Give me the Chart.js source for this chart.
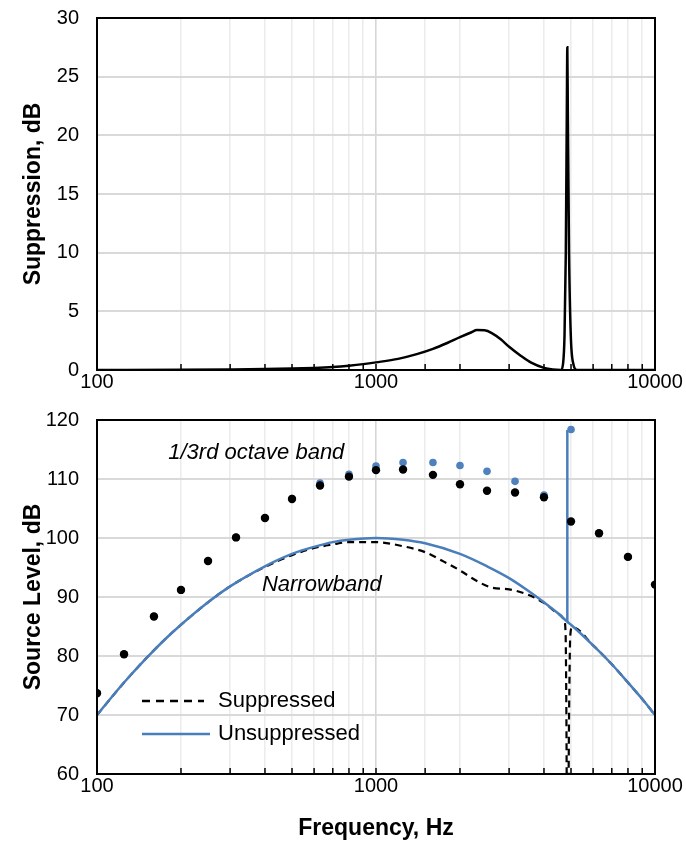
<!DOCTYPE html>
<html>
<head>
<meta charset="utf-8">
<script src="https://cdn.jsdelivr.net/npm/chart.js@4.4.1/dist/chart.umd.min.js"></script>
<style>
  html, body { margin: 0; padding: 0; background: #fff; }
  #wrap { position: relative; width: 686px; height: 842px; }
  canvas { position: absolute; left: 0; }
</style>
</head>
<body>
<div id="wrap">
  <canvas id="suppChart" width="686" height="400" style="top:0"></canvas>
  <canvas id="levelChart" width="686" height="442" style="top:400px"></canvas>
</div>
<script>
// top panel: suppression vs frequency
const suppFreq = [100, 200, 300, 400, 500, 600, 700, 800, 900, 1000, 1200, 1400, 1600, 1800, 2000, 2200, 2300,
  2450, 2600, 2800, 3000, 3300, 3600, 4000, 4300, 4600, 4680, 4740, 4790, 4830, 4850, 4870, 4920, 4990, 5100, 5250, 10000];
const suppDb = [0, 0.02, 0.05, 0.08, 0.12, 0.18, 0.26, 0.37, 0.5, 0.65, 0.95, 1.35, 1.8, 2.3, 2.8, 3.22, 3.4,
  3.38, 3.15, 2.62, 1.98, 1.22, 0.62, 0.18, 0.04, 0, 0.5, 3, 10, 22, 27.5, 22, 10, 3, 0.5, 0, 0];

// bottom panel: 1/3rd octave band levels
const bandFreq = [100, 125, 160, 200, 250, 315, 400, 500, 630, 800, 1000, 1250, 1600, 2000, 2500, 3150, 4000, 5000, 6300, 8000, 10000];
const bandSuppressed = [73.7, 80.3, 86.7, 91.2, 96.1, 100.1, 103.4, 106.6, 108.9, 110.4, 111.5, 111.6, 110.7, 109.1, 108.0, 107.7, 106.9, 102.8, 100.8, 96.8, 92.1];
const bandUnsuppressed = [73.7, 80.3, 86.7, 91.2, 96.1, 100.1, 103.4, 106.7, 109.3, 110.8, 112.2, 112.8, 112.8, 112.3, 111.3, 109.6, 107.3, 118.4, 100.8, 96.8, 92.1];

// bottom panel: narrowband levels (broadband part and the tone)
const nbFreq = [100, 125, 150, 175, 200, 250, 300, 400, 500, 600, 700, 800, 1000, 1250, 1500, 2000, 2500, 3000, 3500,
  4000, 4500, 4850, 5000, 6000, 7000, 8000, 9000, 10000];
const nbUnsuppressed = [70, 75.5, 79.6, 82.8, 85.3, 89.1, 91.8, 95.2, 97.3, 98.5, 99.3, 99.7, 100, 99.7, 99.1, 97.3, 95.2, 93.2, 91.1,
  89.1, 87.2, 85.8, 85.3, 81.8, 78.6, 75.5, 72.7, 70];
const toneFreq = [4850, 4850];
const toneLevel = [85.8, 118.3];
const nbSuppFreq = [100, 125, 150, 175, 200, 250, 300, 400, 500, 600, 700, 800, 1000, 1250, 1500, 1750, 2000, 2300, 2600, 3000,
  3500, 4000, 4500, 4720, 4780, 4810, 4840, 4880, 4920, 4970, 5050, 6000, 7000, 8000, 9000, 10000];
const nbSuppressed = [70, 75.5, 79.6, 82.8, 85.3, 89.1, 91.8, 95.1, 97.1, 98.3, 98.9, 99.3, 99.3, 98.6, 97.6, 96.0, 94.5, 92.7, 91.6, 91.3,
  90.4, 89.0, 87.2, 86.2, 84.0, 72, 50, 50, 70, 83.5, 84.9, 81.8, 78.6, 75.5, 72.7, 70];

const xTickLabels = [100, 1000, 10000];
const notes = [
  { text: '1/3rd octave band', x: 180, y: 114.4 },
  { text: 'Narrowband', x: 390, y: 92.1 }
];

const BLUE = '#4a7ebb';
const FONT = "'Liberation Sans', Arial, sans-serif";

function toPoints(xs, ys) {
  return xs.map((x, i) => ({ x, y: ys[i] }));
}

function xAxis(height, title) {
  return {
    type: 'logarithmic',
    min: 100,
    max: 10000,
    border: { display: false },
    afterFit: (scale) => { scale.height = height; },
    grid: {
      drawTicks: false,
      lineWidth: 1.6,
      color: (ctx) => (xTickLabels.includes(ctx.tick && ctx.tick.value) ? '#d6d6d6' : '#ececec')
    },
    ticks: {
      autoSkip: false,
      maxRotation: 0,
      padding: 0,
      color: '#000',
      font: { family: FONT, size: 20 },
      callback: (value) => (xTickLabels.includes(value) ? String(value) : '')
    },
    title: title
      ? { display: true, text: title, color: '#000', padding: { top: 0, bottom: 0 }, font: { family: FONT, size: 23, weight: 'bold' } }
      : { display: false }
  };
}

function yAxis(min, max, step, title) {
  return {
    min,
    max,
    border: { display: false },
    afterFit: (scale) => { scale.width = 97; },
    // hidden tick marks give the gap between labels and the plot
    grid: { drawTicks: true, tickLength: 18, tickColor: 'rgba(0,0,0,0)', color: '#d9d9d9', lineWidth: 2 },
    ticks: { stepSize: step, padding: 0, color: '#000', font: { family: FONT, size: 20 } },
    title: { display: true, text: title, color: '#000', padding: { top: 20, bottom: 0 }, font: { family: FONT, size: 23, weight: 'bold' } }
  };
}

// box round the plot area plus short inner ticks on the frequency axis
const framePlugin = {
  id: 'frame',
  afterDraw(chart) {
    const { ctx, chartArea: ca, scales } = chart;
    ctx.save();
    ctx.strokeStyle = '#000';
    ctx.lineWidth = 1.5;
    scales.x.ticks.forEach((t) => {
      const px = scales.x.getPixelForValue(t.value);
      ctx.beginPath();
      ctx.moveTo(px, ca.bottom);
      ctx.lineTo(px, ca.bottom - 6);
      ctx.stroke();
    });
    ctx.lineWidth = 2;
    ctx.strokeRect(ca.left, ca.top, ca.right - ca.left, ca.bottom - ca.top);
    ctx.restore();
  }
};

// italic notes and the in-plot legend of the lower panel
const notesPlugin = {
  id: 'notes',
  afterDraw(chart) {
    const { ctx, chartArea: ca, scales } = chart;
    ctx.save();
    ctx.fillStyle = '#000';
    ctx.textBaseline = 'middle';
    ctx.textAlign = 'left';
    ctx.font = `italic 22px ${FONT}`;
    notes.forEach((n) => {
      ctx.fillText(n.text, scales.x.getPixelForValue(n.x), scales.y.getPixelForValue(n.y));
    });

    const rows = [
      { label: 'Suppressed', color: '#000', dash: [8, 6], len: 62, dy: 281 },
      { label: 'Unsuppressed', color: BLUE, dash: [], len: 68, dy: 314 }
    ];
    ctx.font = `22px ${FONT}`;
    rows.forEach((r) => {
      const y = ca.top + r.dy;
      ctx.beginPath();
      ctx.setLineDash(r.dash);
      ctx.strokeStyle = r.color;
      ctx.lineWidth = 2.5;
      ctx.moveTo(ca.left + 45, y);
      ctx.lineTo(ca.left + 45 + r.len, y);
      ctx.stroke();
      ctx.setLineDash([]);
      ctx.fillText(r.label, ca.left + 121, y);
    });
    ctx.restore();
  }
};

new Chart(document.getElementById('suppChart'), {
  type: 'line',
  data: {
    datasets: [{
      label: 'Suppression',
      data: toPoints(suppFreq, suppDb),
      borderColor: '#000',
      borderWidth: 2.5,
      pointRadius: 0,
      cubicInterpolationMode: 'monotone'
    }]
  },
  options: {
    responsive: false,
    animation: false,
    layout: { padding: { left: 0, right: 31, top: 18, bottom: 0 } },
    plugins: { legend: { display: false }, tooltip: { enabled: false } },
    scales: {
      x: xAxis(30, null),
      y: yAxis(0, 30, 5, 'Suppression, dB')
    }
  },
  plugins: [framePlugin]
});

new Chart(document.getElementById('levelChart'), {
  type: 'line',
  data: {
    datasets: [
      {
        label: '1/3rd octave suppressed',
        data: toPoints(bandFreq, bandSuppressed),
        showLine: false,
        pointRadius: 4.2,
        pointBackgroundColor: '#000',
        pointBorderWidth: 0,
        order: 0
      },
      {
        label: '1/3rd octave unsuppressed',
        data: toPoints(bandFreq, bandUnsuppressed),
        showLine: false,
        pointRadius: 3.8,
        pointBackgroundColor: '#4f81bd',
        pointBorderWidth: 0,
        order: 1
      },
      {
        label: 'Unsuppressed',
        data: toPoints(nbFreq, nbUnsuppressed),
        borderColor: BLUE,
        borderWidth: 2.5,
        pointRadius: 0,
        cubicInterpolationMode: 'monotone',
        order: 2
      },
      {
        label: 'Unsuppressed tone',
        data: toPoints(toneFreq, toneLevel),
        borderColor: BLUE,
        borderWidth: 2.5,
        pointRadius: 0,
        order: 2
      },
      {
        label: 'Suppressed',
        data: toPoints(nbSuppFreq, nbSuppressed),
        borderColor: '#000',
        borderWidth: 2.2,
        borderDash: [7, 5],
        pointRadius: 0,
        cubicInterpolationMode: 'monotone',
        order: 3
      }
    ]
  },
  options: {
    responsive: false,
    animation: false,
    layout: { padding: { left: 0, right: 31, top: 20, bottom: 0 } },
    plugins: { legend: { display: false }, tooltip: { enabled: false } },
    scales: {
      x: xAxis(68, 'Frequency, Hz'),
      y: yAxis(60, 120, 10, 'Source Level, dB')
    }
  },
  plugins: [framePlugin, notesPlugin]
});
</script>
</body>
</html>
